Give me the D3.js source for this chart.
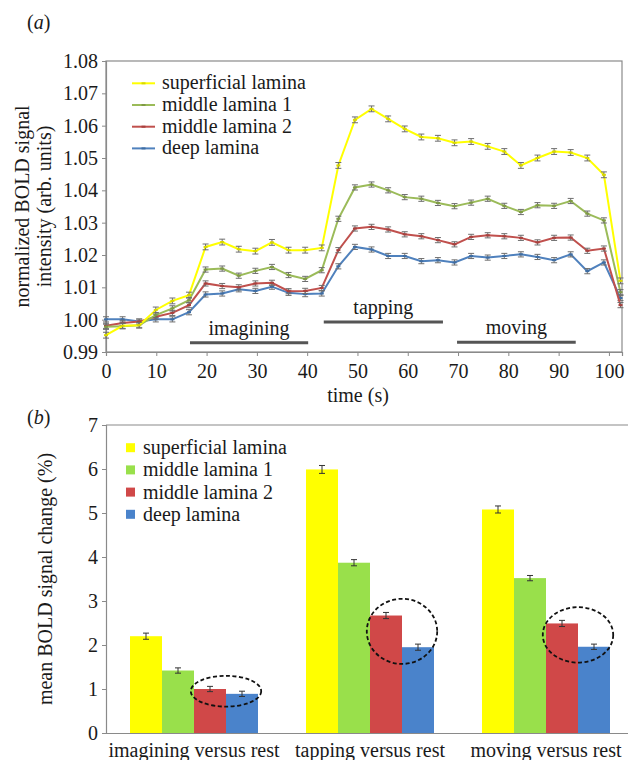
<!DOCTYPE html>
<html>
<head>
<meta charset="utf-8">
<script src="https://cdn.jsdelivr.net/npm/d3@7"></script>
<style>
  html, body { margin: 0; padding: 0; background: #fff; }
  svg { display: block; }
  text { font-family: "Liberation Serif", "Times New Roman", serif; fill: #1a1a1a; }
</style>
</head>
<body>
<svg id="chart" width="628" height="760"></svg>
<script>
// ---------- Panel (a) data ----------
const timePoints = [0, 3.3, 6.6, 9.9, 13.2, 16.5, 19.8, 23.1, 26.4, 29.7, 33, 36.3, 39.6, 42.9,
  46.2, 49.5, 52.8, 56.1, 59.4, 62.7, 66, 69.3, 72.6, 75.9, 79.2, 82.5, 85.8, 89.1, 92.4, 95.7, 99, 102.3];
const superficialLine = [0.9952, 0.9981, 0.9983, 1.0030, 1.0058, 1.0076, 1.0225, 1.0240, 1.0218, 1.0212, 1.0239, 1.0215, 1.0215, 1.0222,
  1.0477, 1.0618, 1.0652, 1.0621, 1.0590, 1.0565, 1.0561, 1.0547, 1.0551, 1.0536, 1.0520, 1.0477, 1.0500, 1.0520, 1.0517, 1.0500, 1.0448, 1.0120];
const middle1Line = [0.9978, 0.9980, 0.9983, 1.0014, 1.0035, 1.0060, 1.0155, 1.0158, 1.0136, 1.0151, 1.0163, 1.0138, 1.0126, 1.0153,
  1.0312, 1.0409, 1.0418, 1.0400, 1.0379, 1.0374, 1.0361, 1.0351, 1.0362, 1.0374, 1.0352, 1.0333, 1.0354, 1.0352, 1.0367, 1.0328, 1.0307, 1.0085];
const middle2Line = [0.9981, 0.9990, 0.9994, 1.0009, 1.0021, 1.0045, 1.0112, 1.0104, 1.0100, 1.0112, 1.0114, 1.0088, 1.0089, 1.0098,
  1.0215, 1.0282, 1.0287, 1.0279, 1.0264, 1.0258, 1.0246, 1.0233, 1.0256, 1.0261, 1.0258, 1.0253, 1.0239, 1.0253, 1.0254, 1.0213, 1.0220, 1.0045];
const deepLine = [1.0001, 1.0001, 0.9994, 1.0001, 1.0001, 1.0023, 1.0078, 1.0081, 1.0094, 1.0089, 1.0102, 1.0083, 1.0079, 1.0081,
  1.0165, 1.0225, 1.0217, 1.0197, 1.0197, 1.0181, 1.0184, 1.0177, 1.0197, 1.0192, 1.0197, 1.0202, 1.0194, 1.0184, 1.0202, 1.0150, 1.0177, 1.0067];
const lineError = [0.0009, 0.0008, 0.0008, 0.0008];   // per series, half-height of error bars
const lineNames = ["superficial lamina", "middle lamina 1", "middle lamina 2", "deep lamina"];
const lineYTicks = [0.99, 1.00, 1.01, 1.02, 1.03, 1.04, 1.05, 1.06, 1.07, 1.08];
const lineXTicks = [0, 10, 20, 30, 40, 50, 60, 70, 80, 90, 100];
const conditionNames = ["imagining", "tapping", "moving"];
const conditionStart = [16.7, 43.3, 69.8];
const conditionEnd = [40.2, 67.0, 93.4];
const conditionLevel = [0.99287, 0.99926, 0.99300];

// ---------- Panel (b) data ----------
const barCategories = ["imagining versus rest", "tapping versus rest", "moving versus rest"];
const superficialBar = [2.20, 5.99, 5.08];
const middle1Bar = [1.42, 3.87, 3.52];
const middle2Bar = [1.00, 2.67, 2.49];
const deepBar = [0.89, 1.95, 1.96];
const superficialBarErr = [0.07, 0.09, 0.08];
const middle1BarErr = [0.06, 0.07, 0.06];
const middle2BarErr = [0.06, 0.07, 0.07];
const deepBarErr = [0.06, 0.07, 0.06];
const barYTicks = [0, 1, 2, 3, 4, 5, 6, 7];
const circleCenter = [0.95, 2.31, 2.23];      // value at centre of dashed ellipse
const circleHalfHeight = [0.35, 0.74, 0.63];  // value half-height of dashed ellipse

// ---------- Styles ----------
const lineColors = ["#ffff00", "#9bbb59", "#c0504d", "#4f81bd"];
const lineMarkerColors = ["#d8d800", "#7f9a45", "#a8403d", "#3e6da3"];
const barColors = ["#ffff00", "#99e04b", "#d04848", "#4a83cb"];
const axisColor = "#8a8a8a";
const FS = 20;

const svg = d3.select("#chart");
svg.append("rect").attr("width", 628).attr("height", 760).attr("fill", "#fff");

// =================== PANEL A ===================
const ax = d3.scaleLinear().domain([0, 102.6]).range([106, 622]);
const ay = d3.scaleLinear().domain([0.99, 1.08]).range([352, 61]);

const gA = svg.append("g");
// frame
gA.append("rect").attr("x", ax.range()[0]).attr("y", ay.range()[1])
  .attr("width", ax.range()[1] - ax.range()[0]).attr("height", ay.range()[0] - ay.range()[1])
  .attr("fill", "none").attr("stroke", axisColor).attr("stroke-width", 1.2);

const yAxisA = gA.append("g").attr("transform", `translate(${ax.range()[0]},0)`)
  .call(d3.axisLeft(ay).tickValues(lineYTicks).tickFormat(d3.format(".2f")).tickSize(4).tickPadding(4));
const xAxisA = gA.append("g").attr("transform", `translate(0,${ay.range()[0]})`)
  .call(d3.axisBottom(ax).tickValues(lineXTicks).tickFormat(d3.format("d")).tickSize(4).tickPadding(8));
[yAxisA, xAxisA].forEach(g => {
  g.selectAll("path").attr("stroke", axisColor).attr("stroke-width", 1.2);
  g.selectAll("line").attr("stroke", axisColor);
  g.selectAll("text").attr("font-size", FS).attr("font-family", '"Liberation Serif", serif').attr("fill", "#1a1a1a");
});

// condition bars
conditionNames.forEach((name, i) => {
  gA.append("line").attr("x1", ax(conditionStart[i])).attr("x2", ax(conditionEnd[i]))
    .attr("y1", ay(conditionLevel[i])).attr("y2", ay(conditionLevel[i]))
    .attr("stroke", "#555").attr("stroke-width", 3);
  gA.append("text").attr("x", ax((conditionStart[i] + conditionEnd[i]) / 2))
    .attr("y", ay(conditionLevel[i]) - 8).attr("text-anchor", "middle")
    .attr("font-size", FS).text(name);
});

// series
const lineSeries = [superficialLine, middle1Line, middle2Line, deepLine];
const lineGen = d3.line().x((d, i) => ax(timePoints[i])).y(d => ay(d));
// draw from back (deep) to front (superficial)
[3, 2, 1, 0].forEach(s => {
  const vals = lineSeries[s];
  const g = gA.append("g");
  g.append("path").datum(vals).attr("d", lineGen).attr("fill", "none")
    .attr("stroke", lineColors[s]).attr("stroke-width", 2);
  // error bars
  vals.forEach((v, i) => {
    const x = ax(timePoints[i]);
    const y1 = ay(v - lineError[s]), y2 = ay(v + lineError[s]);
    g.append("line").attr("x1", x).attr("x2", x).attr("y1", y1).attr("y2", y2).attr("stroke", "#6e6e6e").attr("stroke-width", 1);
    g.append("line").attr("x1", x - 3).attr("x2", x + 3).attr("y1", y1).attr("y2", y1).attr("stroke", "#6e6e6e").attr("stroke-width", 1);
    g.append("line").attr("x1", x - 3).attr("x2", x + 3).attr("y1", y2).attr("y2", y2).attr("stroke", "#6e6e6e").attr("stroke-width", 1);
    g.append("line").attr("x1", x - 2).attr("x2", x + 2).attr("y1", ay(v)).attr("y2", ay(v)).attr("stroke", lineMarkerColors[s]).attr("stroke-width", 2);
  });
});

// legend A
lineNames.forEach((name, i) => {
  const yc = 83.3 + i * 21.7;
  gA.append("line").attr("x1", 132).attr("x2", 155).attr("y1", yc).attr("y2", yc)
    .attr("stroke", lineColors[i]).attr("stroke-width", 2);
  gA.append("line").attr("x1", 141.5).attr("x2", 145.5).attr("y1", yc).attr("y2", yc)
    .attr("stroke", lineMarkerColors[i]).attr("stroke-width", 2);
  gA.append("text").attr("x", 162).attr("y", yc + 6).attr("font-size", FS).text(name);
});

// titles A
gA.append("text").attr("transform", `translate(29,${(ay.range()[0] + ay.range()[1]) / 2}) rotate(-90)`)
  .attr("text-anchor", "middle").attr("font-size", FS).text("normalized BOLD signal");
gA.append("text").attr("transform", `translate(51,${(ay.range()[0] + ay.range()[1]) / 2}) rotate(-90)`)
  .attr("text-anchor", "middle").attr("font-size", FS).text("intensity (arb. units)");
gA.append("text").attr("x", 358).attr("y", 402).attr("text-anchor", "middle").attr("font-size", FS).text("time (s)");
const la = gA.append("text").attr("x", 27).attr("y", 29).attr("font-size", FS);
la.append("tspan").text("(");
la.append("tspan").attr("font-style", "italic").text("a");
la.append("tspan").text(")");

// =================== PANEL B ===================
const bx0 = d3.scaleBand().domain(barCategories).range([106, 634]);
const bx1 = d3.scaleBand().domain(lineNames).range([0, bx0.bandwidth()]).paddingInner(0).paddingOuter(0.75);
const by = d3.scaleLinear().domain([0, 7]).range([733, 425]);

const gB = svg.append("g");
// top border
gB.append("line").attr("x1", 106).attr("x2", 628).attr("y1", by(7)).attr("y2", by(7))
  .attr("stroke", axisColor).attr("stroke-width", 1.2);

const yAxisB = gB.append("g").attr("transform", `translate(106,0)`)
  .call(d3.axisLeft(by).tickValues(barYTicks).tickFormat(d3.format("d")).tickSize(4).tickPadding(4));
const xAxisB = gB.append("g").attr("transform", `translate(0,${by(0)})`)
  .call(d3.axisBottom(bx0).tickSize(0).tickPadding(10));
[yAxisB, xAxisB].forEach(g => {
  g.selectAll("path").attr("stroke", axisColor).attr("stroke-width", 1.2);
  g.selectAll("line").attr("stroke", axisColor);
  g.selectAll("text").attr("font-size", FS).attr("font-family", '"Liberation Serif", serif').attr("fill", "#1a1a1a");
});

const barSeries = [superficialBar, middle1Bar, middle2Bar, deepBar];
const barErrs = [superficialBarErr, middle1BarErr, middle2BarErr, deepBarErr];
barCategories.forEach((cat, c) => {
  barSeries.forEach((vals, s) => {
    const x = bx0(cat) + bx1(lineNames[s]);
    const w = bx1.bandwidth();
    gB.append("rect").attr("x", x).attr("y", by(vals[c])).attr("width", w)
      .attr("height", by(0) - by(vals[c])).attr("fill", barColors[s]);
    const cx = x + w / 2;
    const y1 = by(vals[c] - barErrs[s][c]), y2 = by(vals[c] + barErrs[s][c]);
    const eg = gB.append("g").attr("stroke", "#333").attr("stroke-width", 1);
    eg.append("line").attr("x1", cx).attr("x2", cx).attr("y1", y1).attr("y2", y2);
    eg.append("line").attr("x1", cx - 3).attr("x2", cx + 3).attr("y1", y1).attr("y2", y1);
    eg.append("line").attr("x1", cx - 3).attr("x2", cx + 3).attr("y1", y2).attr("y2", y2);
  });
  // dashed ellipse around middle lamina 2 / deep lamina
  const ecx = bx0(cat) + bx1(lineNames[3]);
  gB.append("ellipse").attr("cx", ecx).attr("cy", by(circleCenter[c]))
    .attr("rx", bx1.bandwidth() * 1.1)
    .attr("ry", by(0) - by(circleHalfHeight[c]))
    .attr("fill", "none").attr("stroke", "#111").attr("stroke-width", 1.8)
    .attr("stroke-dasharray", "4,2.5");
});

// legend B
lineNames.forEach((name, i) => {
  const yc = 447.7 + i * 22.2;
  gB.append("rect").attr("x", 126).attr("y", yc - 4.5).attr("width", 9).attr("height", 9).attr("fill", barColors[i]);
  gB.append("text").attr("x", 143).attr("y", yc + 6.5).attr("font-size", FS).text(name);
});

gB.append("text").attr("transform", `translate(52,${(by(0) + by(7)) / 2}) rotate(-90)`)
  .attr("text-anchor", "middle").attr("font-size", FS).text("mean BOLD signal change (%)");
const lb = gB.append("text").attr("x", 27).attr("y", 424).attr("font-size", FS);
lb.append("tspan").text("(");
lb.append("tspan").attr("font-style", "italic").text("b");
lb.append("tspan").text(")");
</script>
</body>
</html>
